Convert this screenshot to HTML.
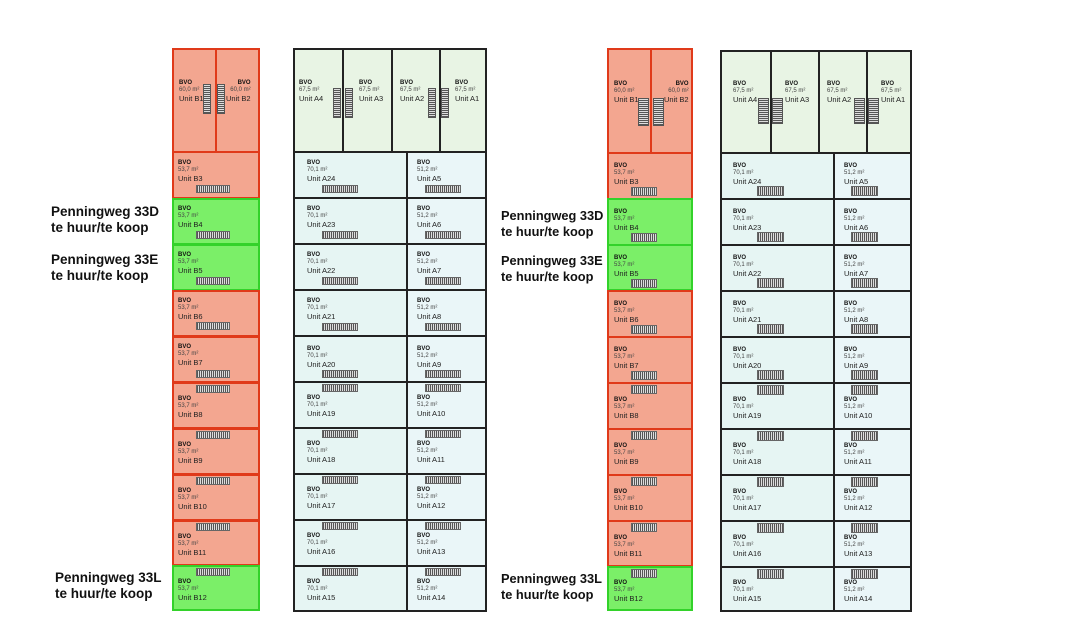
<!DOCTYPE html>
<html><head><meta charset="utf-8"><style>
body{margin:0;width:1080px;height:626px;background:#fff;position:relative;overflow:hidden;font-family:"Liberation Sans",sans-serif}
.c{position:absolute;box-sizing:border-box;border:2px solid #222}
.a1{background:#e8f4e4}.a2{background:#e6f5f3}.a3{background:#eaf6f8}
.r{background:#f3a690;border-color:#e03a1a}
.g{background:#7bef68;border-color:#33d22a}
.t{position:absolute;font-size:6px;line-height:7px;color:#444;white-space:nowrap}
.t b{color:#111;display:block;font-size:6px}
.t i{font-style:normal;display:block;font-size:7.5px;line-height:9px;color:#222}
.R{text-align:right}
.s{position:absolute;height:8px;background:repeating-linear-gradient(90deg,#555 0 1px,#ddd 1px 2px);border:1px solid #666;box-sizing:border-box}
.v{position:absolute;width:8px;height:30px;background:repeating-linear-gradient(0deg,#555 0 1px,#ddd 1px 2px);border:1px solid #555;box-sizing:border-box}
.L{position:absolute;font-weight:bold;font-size:13.5px;line-height:16px;color:#111}
.L2{font-size:12.8px}
</style></head><body>

<div class="L" style="left:51px;top:204px">Penningweg 33D<br>te huur/te koop</div>
<div class="L" style="left:51px;top:252px">Penningweg 33E<br>te huur/te koop</div>
<div class="L" style="left:55px;top:570px">Penningweg 33L<br>te huur/te koop</div>
<div class="L L2" style="left:501px;top:208px">Penningweg 33D<br>te huur/te koop</div>
<div class="L L2" style="left:501px;top:253px">Penningweg 33E<br>te huur/te koop</div>
<div class="L L2" style="left:501px;top:571px">Penningweg 33L<br>te huur/te koop</div>

<!-- LEFT PLAN B column -->
<div class="c r" style="left:172px;top:48px;width:45px;height:105px"></div>
<div class="c r" style="left:215px;top:48px;width:45px;height:105px"></div>
<div class="t" style="left:179px;top:80px"><b>BVO</b>60,0 m²<i>Unit B1</i></div>
<div class="t R" style="left:226px;top:80px"><b>BVO</b>60,0 m²<i>Unit B2</i></div>
<div class="v" style="left:203px;top:84px"></div><div class="v" style="left:217px;top:84px"></div>

<div class="c r" style="left:172px;top:151px;width:88px;height:48px"></div>
<div class="t" style="left:178px;top:160px"><b>BVO</b>53,7 m²<i>Unit B3</i></div><div class="s" style="left:196px;top:185px;width:34px"></div>
<div class="c g" style="left:172px;top:198px;width:88px;height:47px"></div>
<div class="t" style="left:178px;top:206px"><b>BVO</b>53,7 m²<i>Unit B4</i></div><div class="s" style="left:196px;top:231px;width:34px"></div>
<div class="c g" style="left:172px;top:244px;width:88px;height:47px"></div>
<div class="t" style="left:178px;top:252px"><b>BVO</b>53,7 m²<i>Unit B5</i></div><div class="s" style="left:196px;top:277px;width:34px"></div>
<div class="c r" style="left:172px;top:290px;width:88px;height:47px"></div>
<div class="t" style="left:178px;top:298px"><b>BVO</b>53,7 m²<i>Unit B6</i></div><div class="s" style="left:196px;top:322px;width:34px"></div>
<div class="c r" style="left:172px;top:336px;width:88px;height:47px"></div>
<div class="t" style="left:178px;top:344px"><b>BVO</b>53,7 m²<i>Unit B7</i></div><div class="s" style="left:196px;top:370px;width:34px"></div>
<div class="c r" style="left:172px;top:382px;width:88px;height:47px"></div>
<div class="t" style="left:178px;top:396px"><b>BVO</b>53,7 m²<i>Unit B8</i></div><div class="s" style="left:196px;top:385px;width:34px"></div>
<div class="c r" style="left:172px;top:428px;width:88px;height:47px"></div>
<div class="t" style="left:178px;top:442px"><b>BVO</b>53,7 m²<i>Unit B9</i></div><div class="s" style="left:196px;top:431px;width:34px"></div>
<div class="c r" style="left:172px;top:474px;width:88px;height:47px"></div>
<div class="t" style="left:178px;top:488px"><b>BVO</b>53,7 m²<i>Unit B10</i></div><div class="s" style="left:196px;top:477px;width:34px"></div>
<div class="c r" style="left:172px;top:520px;width:88px;height:46px"></div>
<div class="t" style="left:178px;top:534px"><b>BVO</b>53,7 m²<i>Unit B11</i></div><div class="s" style="left:196px;top:523px;width:34px"></div>
<div class="c g" style="left:172px;top:565px;width:88px;height:46px"></div>
<div class="t" style="left:178px;top:579px"><b>BVO</b>53,7 m²<i>Unit B12</i></div><div class="s" style="left:196px;top:568px;width:34px"></div>

<!-- LEFT PLAN A column -->
<div class="c a1" style="left:293px;top:48px;width:51px;height:105px"></div>
<div class="c a1" style="left:342px;top:48px;width:51px;height:105px"></div>
<div class="c a1" style="left:391px;top:48px;width:50px;height:105px"></div>
<div class="c a1" style="left:439px;top:48px;width:48px;height:105px"></div>
<div class="t" style="left:299px;top:80px"><b>BVO</b>67,5 m²<i>Unit A4</i></div>
<div class="t" style="left:359px;top:80px"><b>BVO</b>67,5 m²<i>Unit A3</i></div>
<div class="t" style="left:400px;top:80px"><b>BVO</b>67,5 m²<i>Unit A2</i></div>
<div class="t" style="left:455px;top:80px"><b>BVO</b>67,5 m²<i>Unit A1</i></div>
<div class="v" style="left:333px;top:88px"></div><div class="v" style="left:345px;top:88px"></div>
<div class="v" style="left:428px;top:88px"></div><div class="v" style="left:441px;top:88px"></div>

<div class="c a2" style="left:293px;top:151px;width:115px;height:48px"></div><div class="c a3" style="left:406px;top:151px;width:81px;height:48px"></div>
<div class="t" style="left:307px;top:160px"><b>BVO</b>70,1 m²<i>Unit A24</i></div><div class="t" style="left:417px;top:160px"><b>BVO</b>51,2 m²<i>Unit A5</i></div>
<div class="s" style="left:322px;top:185px;width:36px"></div><div class="s" style="left:425px;top:185px;width:36px"></div>
<div class="c a2" style="left:293px;top:197px;width:115px;height:48px"></div><div class="c a3" style="left:406px;top:197px;width:81px;height:48px"></div>
<div class="t" style="left:307px;top:206px"><b>BVO</b>70,1 m²<i>Unit A23</i></div><div class="t" style="left:417px;top:206px"><b>BVO</b>51,2 m²<i>Unit A6</i></div>
<div class="s" style="left:322px;top:231px;width:36px"></div><div class="s" style="left:425px;top:231px;width:36px"></div>
<div class="c a2" style="left:293px;top:243px;width:115px;height:48px"></div><div class="c a3" style="left:406px;top:243px;width:81px;height:48px"></div>
<div class="t" style="left:307px;top:252px"><b>BVO</b>70,1 m²<i>Unit A22</i></div><div class="t" style="left:417px;top:252px"><b>BVO</b>51,2 m²<i>Unit A7</i></div>
<div class="s" style="left:322px;top:277px;width:36px"></div><div class="s" style="left:425px;top:277px;width:36px"></div>
<div class="c a2" style="left:293px;top:289px;width:115px;height:48px"></div><div class="c a3" style="left:406px;top:289px;width:81px;height:48px"></div>
<div class="t" style="left:307px;top:298px"><b>BVO</b>70,1 m²<i>Unit A21</i></div><div class="t" style="left:417px;top:298px"><b>BVO</b>51,2 m²<i>Unit A8</i></div>
<div class="s" style="left:322px;top:323px;width:36px"></div><div class="s" style="left:425px;top:323px;width:36px"></div>
<div class="c a2" style="left:293px;top:335px;width:115px;height:48px"></div><div class="c a3" style="left:406px;top:335px;width:81px;height:48px"></div>
<div class="t" style="left:307px;top:346px"><b>BVO</b>70,1 m²<i>Unit A20</i></div><div class="t" style="left:417px;top:346px"><b>BVO</b>51,2 m²<i>Unit A9</i></div>
<div class="s" style="left:322px;top:370px;width:36px"></div><div class="s" style="left:425px;top:370px;width:36px"></div>
<div class="c a2" style="left:293px;top:381px;width:115px;height:48px"></div><div class="c a3" style="left:406px;top:381px;width:81px;height:48px"></div>
<div class="t" style="left:307px;top:395px"><b>BVO</b>70,1 m²<i>Unit A19</i></div><div class="t" style="left:417px;top:395px"><b>BVO</b>51,2 m²<i>Unit A10</i></div>
<div class="s" style="left:322px;top:384px;width:36px"></div><div class="s" style="left:425px;top:384px;width:36px"></div>
<div class="c a2" style="left:293px;top:427px;width:115px;height:48px"></div><div class="c a3" style="left:406px;top:427px;width:81px;height:48px"></div>
<div class="t" style="left:307px;top:441px"><b>BVO</b>70,1 m²<i>Unit A18</i></div><div class="t" style="left:417px;top:441px"><b>BVO</b>51,2 m²<i>Unit A11</i></div>
<div class="s" style="left:322px;top:430px;width:36px"></div><div class="s" style="left:425px;top:430px;width:36px"></div>
<div class="c a2" style="left:293px;top:473px;width:115px;height:48px"></div><div class="c a3" style="left:406px;top:473px;width:81px;height:48px"></div>
<div class="t" style="left:307px;top:487px"><b>BVO</b>70,1 m²<i>Unit A17</i></div><div class="t" style="left:417px;top:487px"><b>BVO</b>51,2 m²<i>Unit A12</i></div>
<div class="s" style="left:322px;top:476px;width:36px"></div><div class="s" style="left:425px;top:476px;width:36px"></div>
<div class="c a2" style="left:293px;top:519px;width:115px;height:48px"></div><div class="c a3" style="left:406px;top:519px;width:81px;height:48px"></div>
<div class="t" style="left:307px;top:533px"><b>BVO</b>70,1 m²<i>Unit A16</i></div><div class="t" style="left:417px;top:533px"><b>BVO</b>51,2 m²<i>Unit A13</i></div>
<div class="s" style="left:322px;top:522px;width:36px"></div><div class="s" style="left:425px;top:522px;width:36px"></div>
<div class="c a2" style="left:293px;top:565px;width:115px;height:47px"></div><div class="c a3" style="left:406px;top:565px;width:81px;height:47px"></div>
<div class="t" style="left:307px;top:579px"><b>BVO</b>70,1 m²<i>Unit A15</i></div><div class="t" style="left:417px;top:579px"><b>BVO</b>51,2 m²<i>Unit A14</i></div>
<div class="s" style="left:322px;top:568px;width:36px"></div><div class="s" style="left:425px;top:568px;width:36px"></div>

<!-- RIGHT PLAN B column -->
<div class="c r" style="left:607px;top:48px;width:45px;height:106px"></div>
<div class="c r" style="left:650px;top:48px;width:43px;height:106px"></div>
<div class="t" style="left:614px;top:81px"><b>BVO</b>60,0 m²<i>Unit B1</i></div>
<div class="t R" style="left:664px;top:81px"><b>BVO</b>60,0 m²<i>Unit B2</i></div>
<div class="v" style="left:638px;top:98px;width:11px;height:28px"></div><div class="v" style="left:653px;top:98px;width:11px;height:28px"></div>

<div class="c r" style="left:607px;top:152px;width:86px;height:48px"></div>
<div class="t" style="left:614px;top:163px"><b>BVO</b>53,7 m²<i>Unit B3</i></div><div class="s" style="left:631px;top:187px;width:26px;height:9px"></div>
<div class="c g" style="left:607px;top:198px;width:86px;height:48px"></div>
<div class="t" style="left:614px;top:209px"><b>BVO</b>53,7 m²<i>Unit B4</i></div><div class="s" style="left:631px;top:233px;width:26px;height:9px"></div>
<div class="c g" style="left:607px;top:244px;width:86px;height:47px"></div>
<div class="t" style="left:614px;top:255px"><b>BVO</b>53,7 m²<i>Unit B5</i></div><div class="s" style="left:631px;top:279px;width:26px;height:9px"></div>
<div class="c r" style="left:607px;top:290px;width:86px;height:48px"></div>
<div class="t" style="left:614px;top:301px"><b>BVO</b>53,7 m²<i>Unit B6</i></div><div class="s" style="left:631px;top:325px;width:26px;height:9px"></div>
<div class="c r" style="left:607px;top:336px;width:86px;height:48px"></div>
<div class="t" style="left:614px;top:347px"><b>BVO</b>53,7 m²<i>Unit B7</i></div><div class="s" style="left:631px;top:371px;width:26px;height:9px"></div>
<div class="c r" style="left:607px;top:382px;width:86px;height:48px"></div>
<div class="t" style="left:614px;top:397px"><b>BVO</b>53,7 m²<i>Unit B8</i></div><div class="s" style="left:631px;top:385px;width:26px;height:9px"></div>
<div class="c r" style="left:607px;top:428px;width:86px;height:48px"></div>
<div class="t" style="left:614px;top:443px"><b>BVO</b>53,7 m²<i>Unit B9</i></div><div class="s" style="left:631px;top:431px;width:26px;height:9px"></div>
<div class="c r" style="left:607px;top:474px;width:86px;height:48px"></div>
<div class="t" style="left:614px;top:489px"><b>BVO</b>53,7 m²<i>Unit B10</i></div><div class="s" style="left:631px;top:477px;width:26px;height:9px"></div>
<div class="c r" style="left:607px;top:520px;width:86px;height:47px"></div>
<div class="t" style="left:614px;top:535px"><b>BVO</b>53,7 m²<i>Unit B11</i></div><div class="s" style="left:631px;top:523px;width:26px;height:9px"></div>
<div class="c g" style="left:607px;top:566px;width:86px;height:45px"></div>
<div class="t" style="left:614px;top:580px"><b>BVO</b>53,7 m²<i>Unit B12</i></div><div class="s" style="left:631px;top:569px;width:26px;height:9px"></div>

<!-- RIGHT PLAN A column -->
<div class="c a1" style="left:720px;top:50px;width:52px;height:104px"></div>
<div class="c a1" style="left:770px;top:50px;width:50px;height:104px"></div>
<div class="c a1" style="left:818px;top:50px;width:50px;height:104px"></div>
<div class="c a1" style="left:866px;top:50px;width:46px;height:104px"></div>
<div class="t" style="left:733px;top:81px"><b>BVO</b>67,5 m²<i>Unit A4</i></div>
<div class="t" style="left:785px;top:81px"><b>BVO</b>67,5 m²<i>Unit A3</i></div>
<div class="t" style="left:827px;top:81px"><b>BVO</b>67,5 m²<i>Unit A2</i></div>
<div class="t" style="left:881px;top:81px"><b>BVO</b>67,5 m²<i>Unit A1</i></div>
<div class="v" style="left:758px;top:98px;width:11px;height:26px"></div><div class="v" style="left:772px;top:98px;width:11px;height:26px"></div>
<div class="v" style="left:854px;top:98px;width:11px;height:26px"></div><div class="v" style="left:868px;top:98px;width:11px;height:26px"></div>

<div class="c a2" style="left:720px;top:152px;width:115px;height:48px"></div><div class="c a3" style="left:833px;top:152px;width:79px;height:48px"></div>
<div class="t" style="left:733px;top:163px"><b>BVO</b>70,1 m²<i>Unit A24</i></div><div class="t" style="left:844px;top:163px"><b>BVO</b>51,2 m²<i>Unit A5</i></div>
<div class="s" style="left:757px;top:186px;width:27px;height:10px"></div><div class="s" style="left:851px;top:186px;width:27px;height:10px"></div>
<div class="c a2" style="left:720px;top:198px;width:115px;height:48px"></div><div class="c a3" style="left:833px;top:198px;width:79px;height:48px"></div>
<div class="t" style="left:733px;top:209px"><b>BVO</b>70,1 m²<i>Unit A23</i></div><div class="t" style="left:844px;top:209px"><b>BVO</b>51,2 m²<i>Unit A6</i></div>
<div class="s" style="left:757px;top:232px;width:27px;height:10px"></div><div class="s" style="left:851px;top:232px;width:27px;height:10px"></div>
<div class="c a2" style="left:720px;top:244px;width:115px;height:48px"></div><div class="c a3" style="left:833px;top:244px;width:79px;height:48px"></div>
<div class="t" style="left:733px;top:255px"><b>BVO</b>70,1 m²<i>Unit A22</i></div><div class="t" style="left:844px;top:255px"><b>BVO</b>51,2 m²<i>Unit A7</i></div>
<div class="s" style="left:757px;top:278px;width:27px;height:10px"></div><div class="s" style="left:851px;top:278px;width:27px;height:10px"></div>
<div class="c a2" style="left:720px;top:290px;width:115px;height:48px"></div><div class="c a3" style="left:833px;top:290px;width:79px;height:48px"></div>
<div class="t" style="left:733px;top:301px"><b>BVO</b>70,1 m²<i>Unit A21</i></div><div class="t" style="left:844px;top:301px"><b>BVO</b>51,2 m²<i>Unit A8</i></div>
<div class="s" style="left:757px;top:324px;width:27px;height:10px"></div><div class="s" style="left:851px;top:324px;width:27px;height:10px"></div>
<div class="c a2" style="left:720px;top:336px;width:115px;height:48px"></div><div class="c a3" style="left:833px;top:336px;width:79px;height:48px"></div>
<div class="t" style="left:733px;top:347px"><b>BVO</b>70,1 m²<i>Unit A20</i></div><div class="t" style="left:844px;top:347px"><b>BVO</b>51,2 m²<i>Unit A9</i></div>
<div class="s" style="left:757px;top:370px;width:27px;height:10px"></div><div class="s" style="left:851px;top:370px;width:27px;height:10px"></div>
<div class="c a2" style="left:720px;top:382px;width:115px;height:48px"></div><div class="c a3" style="left:833px;top:382px;width:79px;height:48px"></div>
<div class="t" style="left:733px;top:397px"><b>BVO</b>70,1 m²<i>Unit A19</i></div><div class="t" style="left:844px;top:397px"><b>BVO</b>51,2 m²<i>Unit A10</i></div>
<div class="s" style="left:757px;top:385px;width:27px;height:10px"></div><div class="s" style="left:851px;top:385px;width:27px;height:10px"></div>
<div class="c a2" style="left:720px;top:428px;width:115px;height:48px"></div><div class="c a3" style="left:833px;top:428px;width:79px;height:48px"></div>
<div class="t" style="left:733px;top:443px"><b>BVO</b>70,1 m²<i>Unit A18</i></div><div class="t" style="left:844px;top:443px"><b>BVO</b>51,2 m²<i>Unit A11</i></div>
<div class="s" style="left:757px;top:431px;width:27px;height:10px"></div><div class="s" style="left:851px;top:431px;width:27px;height:10px"></div>
<div class="c a2" style="left:720px;top:474px;width:115px;height:48px"></div><div class="c a3" style="left:833px;top:474px;width:79px;height:48px"></div>
<div class="t" style="left:733px;top:489px"><b>BVO</b>70,1 m²<i>Unit A17</i></div><div class="t" style="left:844px;top:489px"><b>BVO</b>51,2 m²<i>Unit A12</i></div>
<div class="s" style="left:757px;top:477px;width:27px;height:10px"></div><div class="s" style="left:851px;top:477px;width:27px;height:10px"></div>
<div class="c a2" style="left:720px;top:520px;width:115px;height:48px"></div><div class="c a3" style="left:833px;top:520px;width:79px;height:48px"></div>
<div class="t" style="left:733px;top:535px"><b>BVO</b>70,1 m²<i>Unit A16</i></div><div class="t" style="left:844px;top:535px"><b>BVO</b>51,2 m²<i>Unit A13</i></div>
<div class="s" style="left:757px;top:523px;width:27px;height:10px"></div><div class="s" style="left:851px;top:523px;width:27px;height:10px"></div>
<div class="c a2" style="left:720px;top:566px;width:115px;height:46px"></div><div class="c a3" style="left:833px;top:566px;width:79px;height:46px"></div>
<div class="t" style="left:733px;top:580px"><b>BVO</b>70,1 m²<i>Unit A15</i></div><div class="t" style="left:844px;top:580px"><b>BVO</b>51,2 m²<i>Unit A14</i></div>
<div class="s" style="left:757px;top:569px;width:27px;height:10px"></div><div class="s" style="left:851px;top:569px;width:27px;height:10px"></div>

</body></html>
